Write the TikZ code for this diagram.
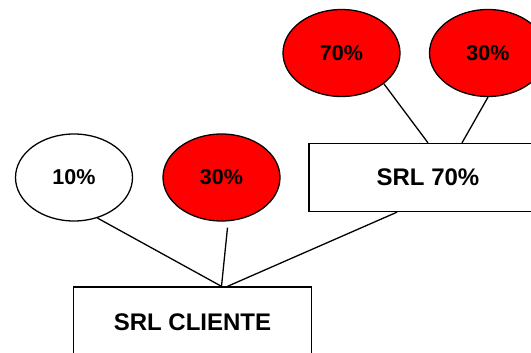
\documentclass[tikz,border=0pt]{standalone}
\usepackage{fontspec}
\setmainfont{Liberation Sans}
\usetikzlibrary{shapes.geometric}
\begin{document}
\begin{tikzpicture}[x=1pt,y=-1pt,line width=1.3pt,
  pct/.style={ellipse,draw,minimum width=117pt,minimum height=87pt,inner sep=0pt,font=\fontsize{21.5}{24}\selectfont\bfseries},
  box/.style={rectangle,draw,minimum width=238pt,minimum height=68pt,inner sep=0pt,font=\fontsize{24}{27}\selectfont\bfseries}]
\clip (0,0) rectangle (531,353);
\node[pct] (p10) at (74,177.5) {10\%};
\node[pct,fill=red] (p30a) at (221.5,177.5) {30\%};
\node[pct,fill=red] (p70) at (341.5,53) {70\%};
\node[pct,fill=red] (p30b) at (488,53) {30\%};
\node[box] (srl70) at (428,177.5) {SRL 70\%};
\node[box,minimum height=70pt] (cli) at (192.5,322) {SRL CLIENTE};
\draw (p70.-36) -- (srl70.north);
\draw (p30b.south) -- ([xshift=34pt]srl70.north);
\draw (p10.-60) -- ([xshift=29pt]cli.north);
\draw ([xshift=6pt,yshift=-6pt]p30a.south) -- ([xshift=29pt]cli.north);
\draw ([xshift=-31pt]srl70.south) -- ([xshift=35pt]cli.north);
\end{tikzpicture}
\end{document}
